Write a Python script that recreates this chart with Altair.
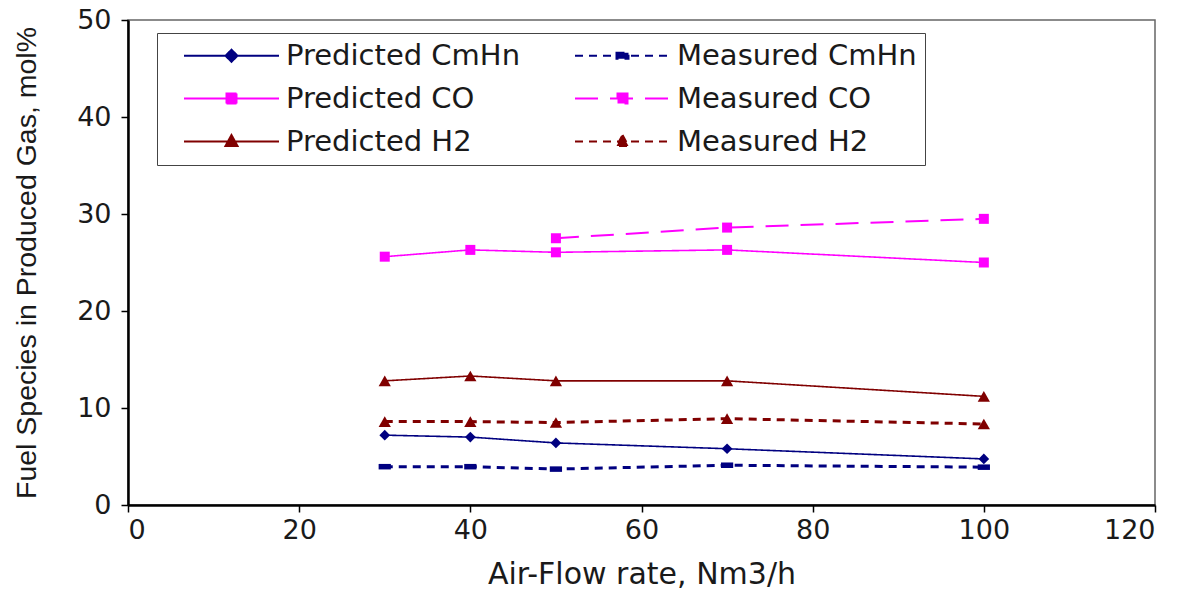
import altair as alt
import pandas as pd

# ---- data ----
air_flow = [30, 40, 50, 70, 100]
pred_cmhn = [7.2, 7.0, 6.4, 5.8, 4.75]
meas_cmhn = [3.95, 3.95, 3.7, 4.1, 3.9]
pred_co = [25.6, 26.3, 26.05, 26.3, 25.0]
meas_co_flow = [50, 70, 100]
meas_co = [27.5, 28.6, 29.5]
pred_h2 = [12.8, 13.3, 12.8, 12.8, 11.2]
meas_h2 = [8.6, 8.6, 8.5, 8.9, 8.35]

series_names = ["Predicted CmHn", "Predicted CO", "Predicted H2",
                "Measured CmHn", "Measured CO", "Measured H2"]
x_ticks = [0, 20, 40, 60, 80, 100, 120]
y_ticks = [0, 10, 20, 30, 40, 50]

# ---- styles (same order as series_names) ----
colors = ["#000080", "#FF00FF", "#800000", "#000080", "#FF00FF", "#800000"]
dashes = [[1, 0], [1, 0], [1, 0], [8, 6], [23, 12], [8, 6]]
widths = [1.6, 1.6, 1.6, 3, 2, 3]
markers = ["diamond", "square", "triangle-up",
           "M-1,-0.45H1V0.45H-1Z", "square", "triangle-up"]
marker_sizes = [115, 100, 150, 150, 100, 150]
L = 4.75
diamond_p = f"M-{L},0H{L}M0,-0.6L0.6,0L0,0.6L-0.6,0Z"
bar_p = f"M-{L},0H{L}M-0.6,-0.3H0.6V0.3H-0.6Z"
square_p = f"M-{L},0H{L}M-0.5,-0.5H0.5V0.5H-0.5Z"
tri_p = f"M-{L},0H{L}M0,-0.65L0.6,0.45H-0.6Z"
legend_paths = [diamond_p, square_p, tri_p, bar_p, square_p, tri_p]

rows = []
def add(name, xs, ys):
    for a, b in zip(xs, ys):
        rows.append({"flow": a, "value": b, "series": name})

add("Predicted CmHn", air_flow, pred_cmhn)
add("Measured CmHn", air_flow, meas_cmhn)
add("Predicted CO", air_flow, pred_co)
add("Measured CO", meas_co_flow, meas_co)
add("Predicted H2", air_flow, pred_h2)
add("Measured H2", air_flow, meas_h2)
df = pd.DataFrame(rows)

X = alt.X("flow:Q", scale=alt.Scale(domain=[0, 120], nice=False),
          axis=alt.Axis(values=x_ticks, title="Air-Flow rate, Nm3/h",
                        labelPadding=5, titlePadding=16, format="d"))
Y = alt.Y("value:Q", scale=alt.Scale(domain=[0, 50], nice=False),
          axis=alt.Axis(values=y_ticks, title="Fuel Species in Produced Gas, mol%",
                        labelPadding=10, titlePadding=35, format="d",
                        titleFont="Liberation Sans", titleFontSize=28.5))

base = alt.Chart(df)

layers = []
# legend-only layer (draws no marks, only provides the legend)
leg = alt.Legend(
    title=None, orient="none", legendX=29, legendY=13, columns=2,
    columnPadding=35, rowPadding=13, padding=8,
    symbolSize=400, symbolOffset=52, labelOffset=40, symbolOpacity=1,
    symbolStrokeWidth=2,
    labelFont="DejaVu Sans", labelFontSize=29, labelColor="#1a1a1a",
    labelLimit=500, strokeColor="#444", fillColor="white",
)
layers.append(
    base.transform_filter("false").mark_point(filled=True, opacity=1).encode(
        x=X, y=Y,
        color=alt.Color("series:N", scale=alt.Scale(domain=series_names, range=colors), legend=leg),
        stroke=alt.Stroke("series:N", scale=alt.Scale(domain=series_names, range=colors), legend=leg),
        shape=alt.Shape("series:N", scale=alt.Scale(domain=series_names, range=legend_paths), legend=leg),
        strokeDash=alt.StrokeDash("series:N", scale=alt.Scale(domain=series_names, range=dashes), legend=leg),
    )
)

for name, c, d, w in zip(series_names, colors, dashes, widths):
    layers.append(
        base.transform_filter(alt.datum.series == name)
        .mark_line(color=c, strokeDash=d, strokeWidth=w)
        .encode(x=X, y=Y)
    )
for name, c, m, s in zip(series_names, colors, markers, marker_sizes):
    layers.append(
        base.transform_filter(alt.datum.series == name)
        .mark_point(filled=True, color=c, shape=m, size=s, opacity=1)
        .encode(x=X, y=Y)
    )

chart = alt.layer(*layers).properties(
    width=1027, height=485,
    padding={"left": 128, "top": 20, "right": 33, "bottom": 87},
    autosize=alt.AutoSizeParams(type="none"),
    background="white",
).configure_view(
    stroke="#666", strokeWidth=1.5
).configure_axis(
    grid=False, domainColor="black", domainWidth=2.5,
    tickColor="black", tickWidth=1.5, tickSize=7,
    labelFont="DejaVu Sans", labelFontSize=27, labelColor="#1a1a1a",
    titleFont="DejaVu Sans", titleFontSize=30, titleColor="#1a1a1a",
    titleFontWeight="normal",
)

chart.save("out.html", embed_options={"renderer": "svg", "actions": False})
